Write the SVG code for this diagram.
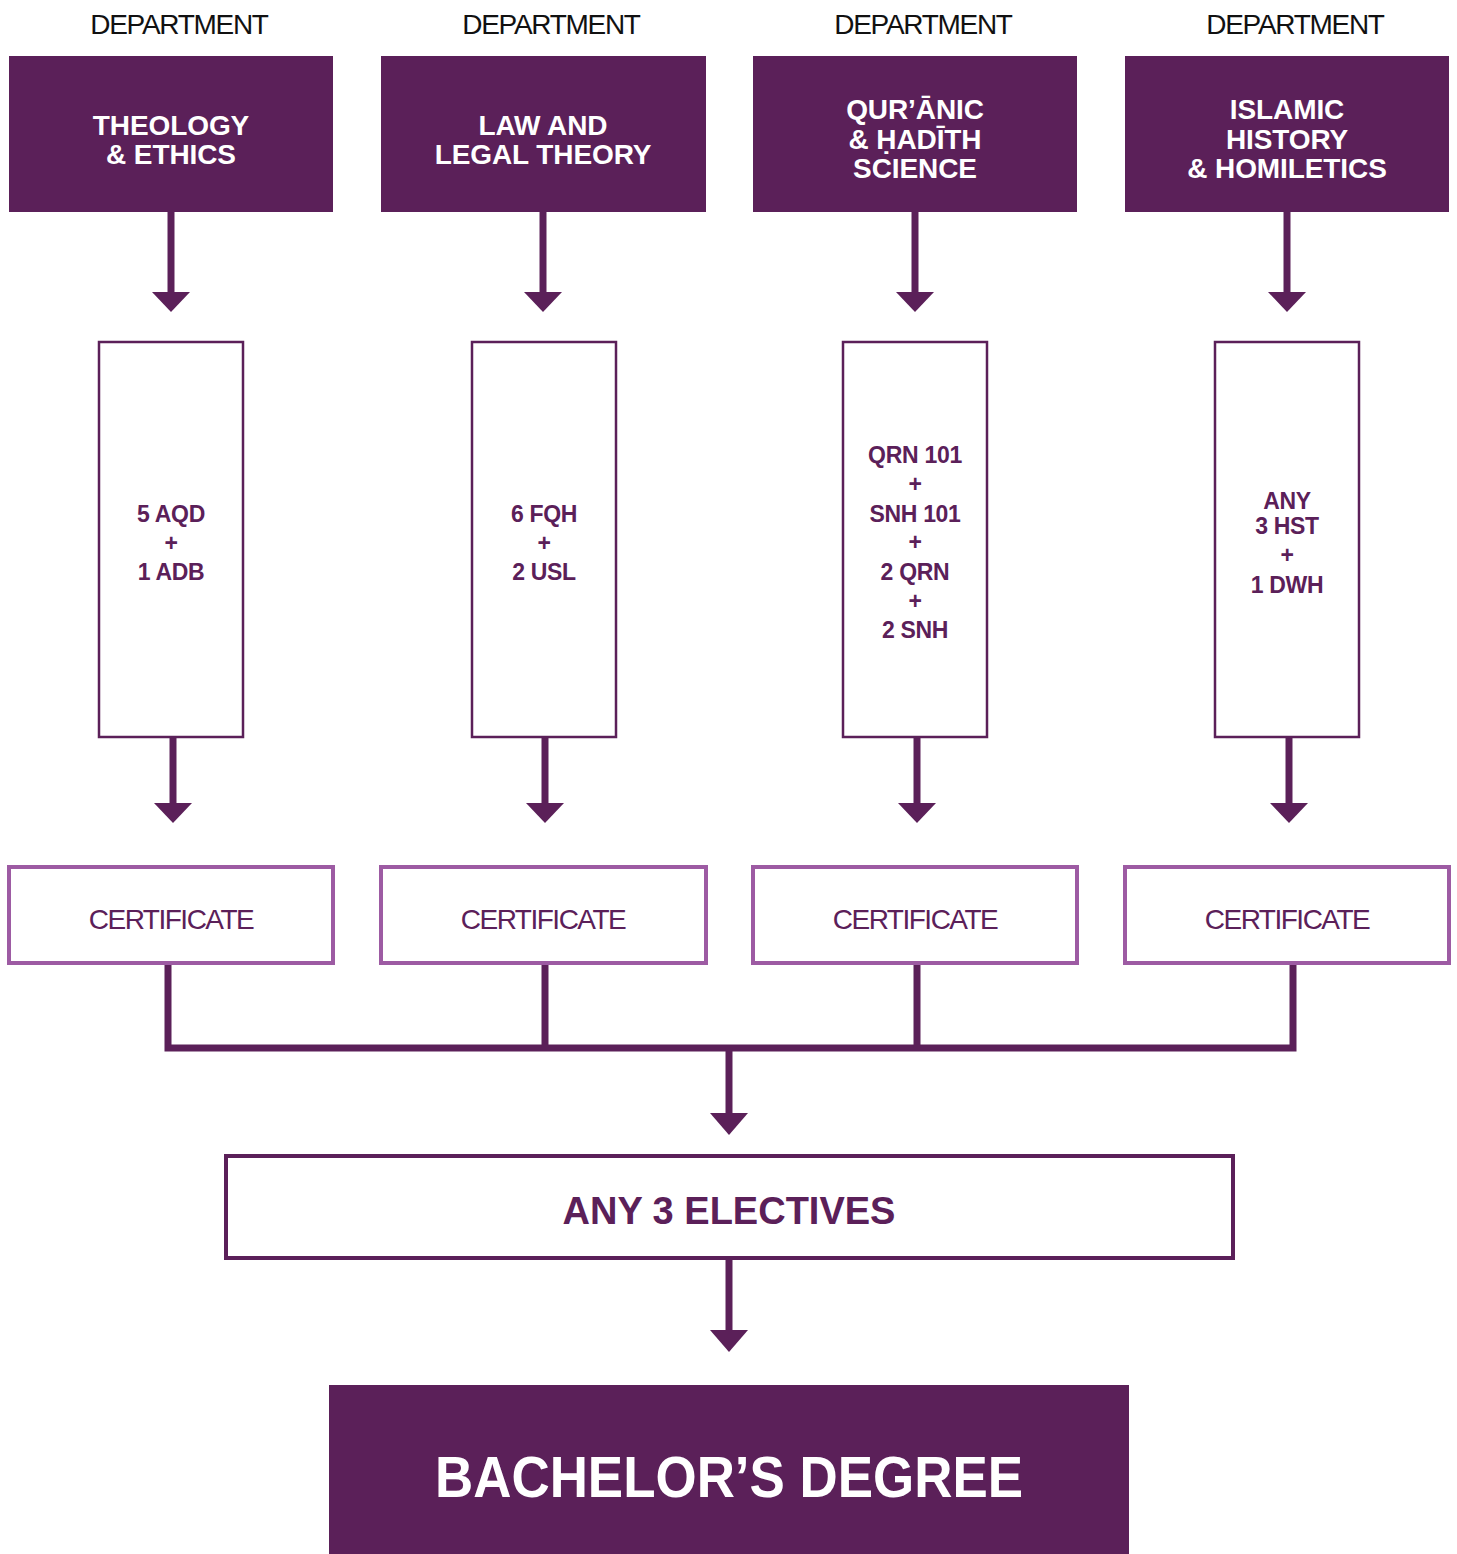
<svg xmlns="http://www.w3.org/2000/svg" width="1457" height="1554" viewBox="0 0 1457 1554">
<style>
.dept{font-family:"Liberation Sans",Arial,sans-serif;font-size:28px;fill:#111;text-anchor:middle;letter-spacing:-1.3px}
.hd{fill:#5B2059}
.ht{font-family:"Liberation Sans",Arial,sans-serif;font-weight:bold;font-size:28px;fill:#fff;text-anchor:middle;letter-spacing:-0.1px}
.col{fill:#fff;stroke:#5B2059;stroke-width:2.5}
.ct{font-family:"Liberation Sans",Arial,sans-serif;font-weight:bold;font-size:23px;fill:#5B2059;text-anchor:middle;letter-spacing:-0.3px}
.cert{fill:#fff;stroke:#9D5BA3;stroke-width:4}
.certt{font-family:"Liberation Sans",Arial,sans-serif;font-size:28px;fill:#5B2059;text-anchor:middle;letter-spacing:-1.5px}
.ln{stroke:#5B2059;stroke-width:7;fill:none}
.ah{fill:#5B2059}
</style>
<rect width="1457" height="1554" fill="#fff"/>
<g id="labels">
<text class="dept" x="179" y="34">DEPARTMENT</text>
<text class="dept" x="551" y="34">DEPARTMENT</text>
<text class="dept" x="923" y="34">DEPARTMENT</text>
<text class="dept" x="1295" y="34">DEPARTMENT</text>
</g>
<g id="connectors">
<line class="ln" x1="171" y1="212" x2="171" y2="296"/><polygon class="ah" points="152,292 190,292 171,312"/>
<line class="ln" x1="543" y1="212" x2="543" y2="296"/><polygon class="ah" points="524,292 562,292 543,312"/>
<line class="ln" x1="915" y1="212" x2="915" y2="296"/><polygon class="ah" points="896,292 934,292 915,312"/>
<line class="ln" x1="1287" y1="212" x2="1287" y2="296"/><polygon class="ah" points="1268,292 1306,292 1287,312"/>
<line class="ln" x1="173" y1="737" x2="173" y2="807"/><polygon class="ah" points="154,803 192,803 173,823"/>
<line class="ln" x1="545" y1="737" x2="545" y2="807"/><polygon class="ah" points="526,803 564,803 545,823"/>
<line class="ln" x1="917" y1="737" x2="917" y2="807"/><polygon class="ah" points="898,803 936,803 917,823"/>
<line class="ln" x1="1289" y1="737" x2="1289" y2="807"/><polygon class="ah" points="1270,803 1308,803 1289,823"/>
<polyline class="ln" points="168,965 168,1048 1293,1048 1293,965"/>
<line class="ln" x1="545" y1="965" x2="545" y2="1048"/>
<line class="ln" x1="917" y1="965" x2="917" y2="1048"/>
<line class="ln" x1="729" y1="1048" x2="729" y2="1117"/><polygon class="ah" points="710,1113 748,1113 729,1135"/>
<line class="ln" x1="729" y1="1258" x2="729" y2="1334"/><polygon class="ah" points="710,1330 748,1330 729,1352"/>
</g>
<g id="dept1"><rect class="hd" x="9" y="56" width="324" height="156"/><text class="ht" x="171" y="135">THEOLOGY</text><text class="ht" x="171" y="164">&amp; ETHICS</text></g>
<g id="dept2"><rect class="hd" x="381" y="56" width="325" height="156"/><text class="ht" x="543" y="135">LAW AND</text><text class="ht" x="543" y="164">LEGAL THEORY</text></g>
<g id="dept3"><rect class="hd" x="753" y="56" width="324" height="156"/><text class="ht" x="915" y="119">QUR’ĀNIC</text><text class="ht" x="915" y="149">&amp; ḤADĪTH</text><text class="ht" x="915" y="178">SCIENCE</text></g>
<g id="dept4"><rect class="hd" x="1125" y="56" width="324" height="156"/><text class="ht" x="1287" y="119">ISLAMIC</text><text class="ht" x="1287" y="149">HISTORY</text><text class="ht" x="1287" y="178">&amp; HOMILETICS</text></g>
<g id="req1"><rect class="col" x="99" y="342" width="144" height="395"/><text class="ct" x="171" y="522">5 AQD</text><text class="ct" x="171" y="551">+</text><text class="ct" x="171" y="580">1 ADB</text></g>
<g id="req2"><rect class="col" x="472" y="342" width="144" height="395"/><text class="ct" x="544" y="522">6 FQH</text><text class="ct" x="544" y="551">+</text><text class="ct" x="544" y="580">2 USL</text></g>
<g id="req3"><rect class="col" x="843" y="342" width="144" height="395"/><text class="ct" x="915" y="463">QRN 101</text><text class="ct" x="915" y="492">+</text><text class="ct" x="915" y="522">SNH 101</text><text class="ct" x="915" y="550">+</text><text class="ct" x="915" y="580">2 QRN</text><text class="ct" x="915" y="609">+</text><text class="ct" x="915" y="638">2 SNH</text></g>
<g id="req4"><rect class="col" x="1215" y="342" width="144" height="395"/><text class="ct" x="1287" y="509">ANY</text><text class="ct" x="1287" y="534">3 HST</text><text class="ct" x="1287" y="563">+</text><text class="ct" x="1287" y="593">1 DWH</text></g>
<g id="cert1"><rect class="cert" x="9" y="867" width="324" height="96"/><text class="certt" x="171" y="929">CERTIFICATE</text></g>
<g id="cert2"><rect class="cert" x="381" y="867" width="325" height="96"/><text class="certt" x="543" y="929">CERTIFICATE</text></g>
<g id="cert3"><rect class="cert" x="753" y="867" width="324" height="96"/><text class="certt" x="915" y="929">CERTIFICATE</text></g>
<g id="cert4"><rect class="cert" x="1125" y="867" width="324" height="96"/><text class="certt" x="1287" y="929">CERTIFICATE</text></g>
<g id="electives"><rect x="226" y="1156" width="1007" height="102" fill="#fff" stroke="#5B2059" stroke-width="4"/><text x="729" y="1224" font-family="Liberation Sans,Arial,sans-serif" font-weight="bold" font-size="38" fill="#5B2059" text-anchor="middle">ANY 3 ELECTIVES</text></g>
<g id="degree"><rect class="hd" x="329" y="1385" width="800" height="169"/><text x="729" y="1497" font-family="Liberation Sans,Arial,sans-serif" font-weight="bold" font-size="58" fill="#fff" text-anchor="middle" textLength="588" lengthAdjust="spacingAndGlyphs">BACHELOR’S DEGREE</text></g>
</svg>
